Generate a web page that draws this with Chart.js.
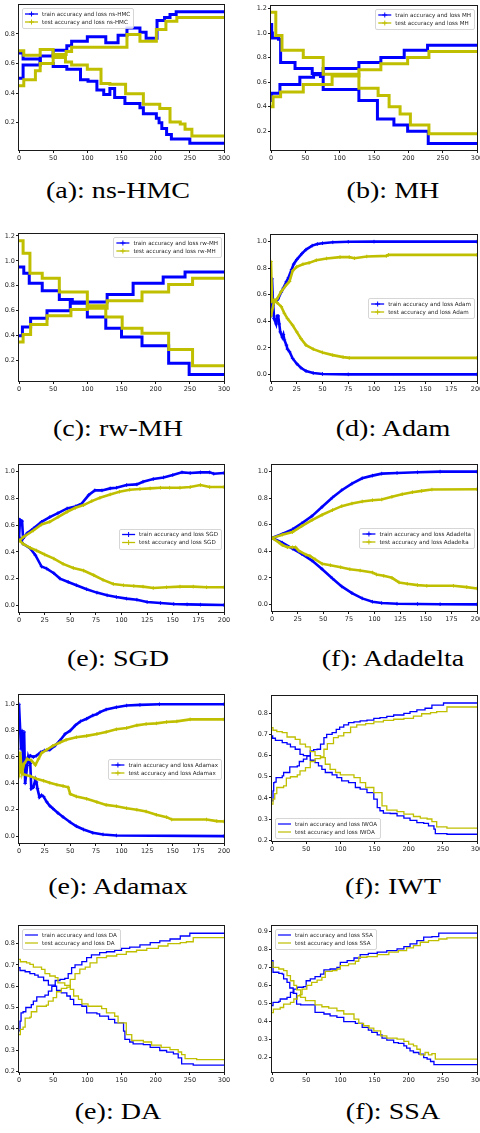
<!DOCTYPE html>
<html lang="en">
<head>
<meta charset="UTF-8">
<title>Accuracy and loss curves</title>
<script src="https://cdn.jsdelivr.net/npm/chart.js@4.4.1/dist/chart.umd.min.js"></script>
<style>
  body { margin: 0; background: #fff; }
  #figure { position: relative; width: 480px; height: 1133px; overflow: hidden; }
  #figure canvas { position: absolute; }
  .cap {
    position: absolute; width: 240px; text-align: center; line-height: 1;
    font-family: "Liberation Serif", serif; font-size: 23px; color: #000;
    transform: translateY(-50%) scaleX(1.22);
  }
</style>
</head>
<body>
<div id="figure"></div>
<script>
// each series: [epoch, value] pairs

// (a) ns-HMC
const hmcTrainAcc = [[0,0.50],[6,0.59],[31,0.65],[50,0.69],[70,0.72],[77,0.75],[100,0.78],[127,0.74],[145,0.79],[158,0.84],[177,0.81],[186,0.77],[202,0.89],[213,0.91],[221,0.93],[230,0.95],[300,0.95]];
const hmcTrainLoss = [[0,0.67],[6,0.63],[31,0.60],[50,0.58],[70,0.56],[90,0.49],[101,0.48],[114,0.42],[124,0.39],[133,0.43],[140,0.37],[155,0.33],[177,0.30],[182,0.26],[201,0.23],[205,0.20],[209,0.16],[216,0.12],[223,0.09],[250,0.06],[300,0.06]];
const hmcTestAcc = [[0,0.45],[7,0.49],[24,0.55],[31,0.60],[50,0.66],[69,0.68],[77,0.71],[158,0.795],[177,0.75],[201,0.83],[215,0.885],[231,0.91],[300,0.91]];
const hmcTestLoss = [[0,0.685],[7,0.655],[31,0.695],[50,0.64],[68,0.61],[77,0.59],[100,0.56],[120,0.465],[133,0.46],[156,0.395],[182,0.325],[206,0.295],[221,0.205],[236,0.19],[243,0.155],[253,0.11],[300,0.11]];

// (b) MH
const mhTrainAcc = [[0,0.45],[1,0.51],[13,0.58],[42,0.64],[62,0.66],[76,0.71],[128,0.76],[160,0.80],[194,0.86],[228,0.90],[300,0.90]];
const mhTrainLoss = [[0,1.07],[1,1.0],[2,0.96],[11,0.95],[14,0.76],[35,0.71],[60,0.67],[72,0.645],[76,0.54],[128,0.45],[155,0.30],[179,0.25],[199,0.20],[229,0.10],[300,0.10]];
const mhTestAcc = [[0,0.40],[3,0.48],[14,0.52],[47,0.58],[89,0.65],[128,0.70],[160,0.75],[199,0.80],[230,0.85],[300,0.85]];
const mhTestLoss = [[0,1.17],[7,0.98],[16,0.86],[47,0.80],[76,0.665],[128,0.55],[156,0.49],[172,0.40],[188,0.34],[203,0.25],[230,0.18],[300,0.18]];

// (c) rw-MH
const rwTrainAcc = [[0,0.40],[5,0.47],[17,0.54],[41,0.60],[75,0.67],[129,0.73],[167,0.82],[211,0.87],[243,0.91],[300,0.91]];
const rwTrainLoss = [[0,0.95],[7,0.90],[15,0.82],[34,0.76],[59,0.69],[78,0.66],[100,0.55],[127,0.46],[150,0.39],[180,0.32],[219,0.18],[249,0.09],[300,0.09]];
const rwTestAcc = [[0,0.35],[6,0.41],[17,0.49],[41,0.56],[76,0.61],[100,0.62],[129,0.68],[180,0.75],[219,0.81],[254,0.86],[300,0.86]];
const rwTestLoss = [[0,1.16],[6,1.06],[16,0.90],[34,0.86],[59,0.75],[100,0.64],[127,0.55],[151,0.46],[180,0.42],[219,0.29],[254,0.16],[300,0.16]];

// (d) Adam
const adamTrainAcc = [[0,0.44],[1,0.72],[2,0.52],[3,0.55],[5,0.55],[7,0.57],[10,0.62],[12,0.65],[15,0.70],[17,0.73],[20,0.79],[22,0.83],[25,0.865],[30,0.91],[34,0.94],[40,0.97],[45,0.982],[50,0.988],[60,0.995],[75,0.999],[100,1.0],[200,1.0]];
const adamTrainLoss = [[0,0.50],[1,0.62],[2,0.55],[3,0.42],[5,0.38],[6,0.44],[7,0.44],[8,0.38],[9,0.32],[11,0.28],[12,0.30],[13,0.26],[15,0.22],[16,0.19],[18,0.17],[21,0.12],[25,0.08],[29,0.05],[34,0.025],[41,0.01],[50,0.003],[75,0.0],[200,0.0]];
const adamTestAcc = [[0,0.44],[3,0.55],[6,0.57],[10,0.625],[15,0.675],[18,0.70],[21,0.78],[25,0.81],[31,0.83],[37,0.84],[44,0.86],[54,0.873],[67,0.883],[76,0.883],[81,0.875],[93,0.888],[112,0.893],[114,0.90],[200,0.90]];
const adamTestLoss = [[0,0.85],[1,0.55],[3,0.56],[6,0.54],[10,0.51],[13,0.46],[16,0.42],[21,0.37],[25,0.32],[29,0.27],[34,0.22],[41,0.19],[50,0.165],[60,0.145],[70,0.13],[76,0.124],[200,0.124]];

// (e) SGD
const sgdTrainAcc = [[0,0.50],[1,0.64],[3,0.63],[4,0.50],[8,0.54],[14,0.575],[22,0.625],[30,0.66],[38,0.69],[47,0.725],[55,0.74],[61,0.76],[68,0.825],[74,0.86],[81,0.86],[89,0.875],[95,0.88],[105,0.90],[115,0.905],[121,0.925],[131,0.945],[141,0.957],[150,0.975],[159,0.995],[167,0.99],[177,0.995],[186,0.995],[190,0.985],[200,0.99]];
const sgdTrainLoss = [[0,0.51],[4,0.46],[11,0.425],[16,0.375],[22,0.29],[27,0.275],[34,0.24],[40,0.20],[48,0.175],[56,0.15],[66,0.12],[76,0.095],[86,0.075],[95,0.062],[105,0.05],[115,0.042],[125,0.025],[138,0.017],[151,0.01],[164,0.007],[177,0.005],[200,0.002]];
const sgdTestAcc = [[0,0.48],[4,0.51],[14,0.56],[22,0.605],[30,0.625],[38,0.66],[47,0.70],[55,0.73],[63,0.75],[71,0.78],[79,0.805],[89,0.83],[98,0.85],[108,0.865],[118,0.87],[128,0.875],[138,0.88],[147,0.88],[157,0.88],[167,0.885],[177,0.90],[186,0.885],[200,0.885]];
const sgdTestLoss = [[0,0.49],[4,0.46],[11,0.43],[17,0.41],[25,0.38],[34,0.35],[43,0.31],[53,0.28],[63,0.26],[73,0.225],[82,0.19],[92,0.16],[102,0.15],[112,0.145],[121,0.14],[131,0.13],[144,0.135],[157,0.14],[170,0.14],[183,0.135],[200,0.135]];

// (f) Adadelta
const adadeltaTrainAcc = [[0,0.50],[10,0.53],[20,0.565],[29,0.61],[39,0.665],[49,0.735],[59,0.805],[68,0.86],[78,0.91],[88,0.95],[98,0.97],[107,0.985],[122,0.99],[142,0.995],[164,1.0],[200,1.0]];
const adadeltaTrainLoss = [[0,0.50],[10,0.465],[20,0.42],[29,0.38],[39,0.33],[49,0.265],[59,0.195],[68,0.135],[78,0.085],[88,0.045],[98,0.02],[107,0.01],[122,0.005],[142,0.003],[164,0.001],[200,0.0]];
const adadeltaTestAcc = [[0,0.50],[10,0.525],[20,0.545],[29,0.59],[39,0.635],[49,0.675],[59,0.71],[68,0.74],[78,0.76],[88,0.775],[98,0.785],[107,0.79],[117,0.81],[127,0.83],[137,0.845],[146,0.855],[156,0.865],[200,0.867]];
const adadeltaTestLoss = [[0,0.50],[7,0.465],[10,0.447],[15,0.43],[20,0.43],[23,0.43],[26,0.405],[33,0.375],[37,0.365],[42,0.34],[49,0.305],[57,0.295],[67,0.28],[76,0.265],[86,0.255],[98,0.24],[102,0.225],[109,0.215],[117,0.20],[124,0.165],[132,0.155],[142,0.145],[151,0.14],[177,0.14],[190,0.13],[200,0.12]];

// (e) Adamax
const adamaxTrainAcc = [[0,0.55],[2,0.52],[4,0.55],[8,0.585],[11,0.61],[14,0.60],[17,0.61],[21,0.635],[25,0.65],[30,0.655],[35,0.685],[40,0.725],[45,0.775],[50,0.80],[55,0.84],[60,0.87],[66,0.89],[72,0.915],[76,0.925],[79,0.94],[85,0.96],[95,0.977],[105,0.99],[118,0.995],[137,1.0],[200,1.0]];
const adamaxTrainLoss = [[0,1.0],[2,0.66],[3,0.80],[4,0.535],[5,0.79],[6,0.40],[8,0.535],[9,0.60],[11,0.55],[12,0.36],[14,0.37],[16,0.43],[17,0.41],[18,0.36],[20,0.295],[22,0.31],[24,0.30],[27,0.26],[30,0.23],[33,0.21],[38,0.175],[43,0.145],[50,0.105],[56,0.075],[63,0.05],[72,0.025],[82,0.013],[95,0.005],[200,0.0]];
const adamaxTestAcc = [[0,0.45],[1,0.635],[3,0.485],[5,0.55],[8,0.585],[12,0.575],[16,0.54],[19,0.585],[22,0.63],[27,0.655],[33,0.685],[40,0.71],[46,0.73],[56,0.75],[66,0.76],[76,0.775],[85,0.79],[95,0.81],[105,0.82],[115,0.84],[124,0.85],[134,0.855],[144,0.865],[154,0.87],[167,0.885],[200,0.885]];
const adamaxTestLoss = [[0,0.575],[2,0.485],[4,0.47],[11,0.455],[17,0.435],[24,0.42],[30,0.405],[37,0.39],[43,0.38],[48,0.37],[50,0.32],[56,0.30],[66,0.283],[76,0.258],[85,0.237],[95,0.227],[105,0.212],[115,0.20],[124,0.187],[134,0.162],[144,0.144],[149,0.126],[183,0.126],[193,0.114],[200,0.111]];

// (f) IWT
const iwtTrainAcc = [[0,0.386],[1.5,0.433],[2.5,0.472],[4,0.475],[6,0.496],[15,0.504],[17,0.52],[26,0.547],[37,0.551],[40,0.572],[46,0.583],[51,0.598],[56,0.622],[61,0.628],[66,0.63],[71,0.654],[76,0.685],[80,0.70],[88,0.709],[94,0.724],[99,0.735],[105,0.745],[112,0.756],[120,0.76],[129,0.764],[139,0.768],[149,0.776],[158,0.78],[168,0.786],[178,0.792],[193,0.80],[202,0.808],[212,0.816],[224,0.824],[234,0.839],[251,0.849],[300,0.849]];
const iwtTrainLoss = [[0,0.693],[1,0.682],[5,0.672],[15,0.661],[22,0.654],[27,0.641],[34,0.63],[41,0.606],[46,0.60],[56,0.578],[63,0.567],[68,0.551],[73,0.535],[78,0.52],[88,0.509],[95,0.496],[102,0.48],[112,0.472],[122,0.449],[129,0.441],[139,0.425],[149,0.394],[154,0.354],[158,0.339],[163,0.328],[173,0.326],[183,0.315],[193,0.304],[202,0.294],[212,0.283],[222,0.279],[229,0.268],[237,0.252],[239,0.231],[256,0.228],[300,0.228]];
const iwtTestAcc = [[0,0.37],[1.5,0.394],[4,0.42],[7,0.449],[17,0.457],[21,0.493],[27,0.50],[37,0.509],[41,0.528],[49,0.543],[56,0.572],[63,0.586],[71,0.594],[76,0.63],[81,0.657],[90,0.685],[97,0.693],[105,0.709],[115,0.735],[124,0.745],[137,0.751],[149,0.76],[163,0.767],[178,0.772],[193,0.776],[207,0.787],[219,0.798],[232,0.803],[241,0.808],[256,0.83],[300,0.83]];
const iwtTestLoss = [[0,0.732],[1.5,0.72],[7,0.713],[15,0.709],[22,0.688],[34,0.677],[41,0.654],[49,0.641],[56,0.619],[63,0.60],[71,0.59],[78,0.559],[85,0.535],[93,0.52],[100,0.509],[120,0.496],[129,0.472],[137,0.449],[149,0.425],[161,0.362],[168,0.342],[183,0.335],[193,0.323],[207,0.312],[217,0.304],[227,0.30],[234,0.288],[241,0.263],[256,0.257],[300,0.257]];

// (e) DA
const daTrainAcc = [[0,0.39],[1.5,0.436],[3,0.475],[6,0.48],[10,0.50],[18,0.514],[21,0.53],[26,0.55],[38,0.558],[43,0.577],[48,0.60],[53,0.627],[60,0.632],[67,0.637],[72,0.659],[77,0.687],[82,0.70],[92,0.716],[99,0.734],[106,0.747],[118,0.758],[128,0.762],[140,0.769],[150,0.778],[162,0.784],[177,0.794],[192,0.805],[206,0.813],[221,0.822],[236,0.836],[250,0.849],[300,0.849]];
const daTrainLoss = [[0,0.687],[1.5,0.674],[9,0.668],[16,0.659],[23,0.652],[28,0.643],[36,0.627],[43,0.605],[53,0.60],[55,0.58],[62,0.569],[70,0.554],[75,0.538],[80,0.514],[92,0.506],[99,0.475],[114,0.47],[118,0.46],[131,0.444],[140,0.428],[153,0.389],[155,0.35],[162,0.338],[167,0.329],[182,0.326],[192,0.313],[206,0.298],[216,0.29],[226,0.282],[233,0.263],[238,0.235],[255,0.229],[300,0.229]];
const daTestAcc = [[0,0.373],[2,0.397],[6,0.408],[9,0.45],[16,0.455],[18,0.48],[26,0.506],[40,0.511],[43,0.53],[50,0.546],[55,0.574],[62,0.59],[70,0.596],[75,0.632],[82,0.659],[89,0.68],[97,0.69],[104,0.71],[114,0.734],[128,0.742],[143,0.75],[157,0.762],[172,0.769],[187,0.778],[204,0.789],[218,0.80],[236,0.805],[245,0.809],[255,0.828],[300,0.828]];
const daTestLoss = [[0,0.726],[2,0.715],[11,0.71],[16,0.703],[21,0.69],[33,0.679],[38,0.659],[45,0.648],[53,0.64],[57,0.616],[67,0.604],[75,0.585],[80,0.554],[87,0.538],[92,0.517],[101,0.506],[121,0.495],[128,0.475],[140,0.459],[145,0.428],[157,0.373],[165,0.345],[182,0.338],[194,0.323],[208,0.313],[221,0.302],[233,0.291],[238,0.279],[243,0.26],[260,0.255],[300,0.255]];

// (f) SSA
const ssaTrainAcc = [[0,0.488],[1.5,0.506],[10,0.512],[12,0.525],[22,0.534],[27,0.562],[32,0.58],[37,0.59],[46,0.593],[50,0.626],[56,0.636],[63,0.649],[71,0.663],[76,0.686],[85,0.691],[95,0.70],[100,0.728],[110,0.737],[120,0.752],[129,0.771],[141,0.778],[154,0.784],[168,0.793],[183,0.802],[193,0.815],[202,0.83],[212,0.848],[222,0.867],[234,0.87],[244,0.89],[300,0.89]];
const ssaTrainLoss = [[0,0.737],[1.5,0.673],[10,0.667],[15,0.663],[17,0.636],[22,0.617],[26,0.586],[31,0.556],[36,0.497],[42,0.493],[63,0.451],[76,0.442],[85,0.432],[95,0.423],[105,0.40],[122,0.39],[132,0.368],[141,0.353],[146,0.34],[154,0.327],[161,0.308],[168,0.297],[178,0.284],[185,0.279],[193,0.266],[197,0.253],[202,0.238],[207,0.229],[215,0.22],[222,0.201],[227,0.192],[232,0.179],[237,0.162],[300,0.162]];
const ssaTestAcc = [[0,0.45],[2,0.469],[12,0.478],[17,0.497],[27,0.506],[32,0.525],[37,0.543],[41,0.549],[44,0.58],[51,0.60],[58,0.617],[66,0.63],[73,0.645],[78,0.678],[88,0.682],[95,0.691],[100,0.71],[112,0.719],[122,0.734],[127,0.756],[139,0.76],[154,0.771],[171,0.784],[185,0.793],[197,0.808],[207,0.82],[217,0.839],[229,0.848],[244,0.857],[256,0.863],[300,0.863]];
const ssaTestLoss = [[0,0.728],[1.5,0.70],[10,0.691],[17,0.682],[22,0.654],[27,0.626],[32,0.60],[36,0.575],[42,0.534],[49,0.516],[63,0.493],[73,0.482],[83,0.475],[95,0.46],[105,0.442],[120,0.414],[127,0.39],[134,0.377],[142,0.364],[149,0.349],[159,0.321],[168,0.308],[183,0.303],[193,0.29],[200,0.275],[207,0.266],[212,0.247],[217,0.216],[224,0.229],[229,0.216],[234,0.223],[239,0.192],[300,0.192]];

// y tick labels per panel
const ticksHmc = [0.2, 0.4, 0.6, 0.8];
const ticksMh = [0.2, 0.4, 0.6, 0.8, 1.0, 1.2];
const ticksOpt = [0.0, 0.2, 0.4, 0.6, 0.8, 1.0];
const ticksIwt = [0.2, 0.3, 0.4, 0.5, 0.6, 0.7, 0.8];
const ticksSsa = [0.2, 0.3, 0.4, 0.5, 0.6, 0.7, 0.8, 0.9];

const BLUE = '#0000ff';
const OLIVE = '#bfbf00';
const TICK_FONT = { family: 'DejaVu Sans', size: 6.5 };
const TEXT = '#262626';

// area = plot frame in page pixels [left, top, right, bottom]; capY = caption centre
const panels = [
  { caption: '(a): ns-HMC', name: 'ns-HMC', col: 0, area: [19, 5, 224, 150], capY: 190, kind: 'step', xMax: 300, y: [0.015, 0.995], yTicks: ticksHmc, loc: 'upper left', s: [hmcTrainAcc, hmcTrainLoss, hmcTestAcc, hmcTestLoss] },
  { caption: '(b): MH', name: 'MH', col: 1, area: [271, 6, 477, 150], capY: 190, kind: 'step', xMax: 300, y: [0.047, 1.22], yTicks: ticksMh, loc: 'upper right', s: [mhTrainAcc, mhTrainLoss, mhTestAcc, mhTestLoss] },
  { caption: '(c): rw-MH', name: 'rw-MH', col: 0, area: [19, 234, 224, 381], capY: 428, kind: 'step', xMax: 300, y: [0.037, 1.215], yTicks: ticksMh, loc: 'upper right', s: [rwTrainAcc, rwTrainLoss, rwTestAcc, rwTestLoss] },
  { caption: '(d): Adam', name: 'Adam', col: 1, area: [271, 235, 477, 381], capY: 428, kind: 'smooth', xMax: 200, y: [-0.05, 1.05], yTicks: ticksOpt, loc: 'center right', s: [adamTrainAcc, adamTrainLoss, adamTestAcc, adamTestLoss] },
  { caption: '(e): SGD', name: 'SGD', col: 0, area: [19, 465, 224, 612], capY: 658, kind: 'smooth', xMax: 200, y: [-0.05, 1.05], yTicks: ticksOpt, loc: 'center right', s: [sgdTrainAcc, sgdTrainLoss, sgdTestAcc, sgdTestLoss] },
  { caption: '(f): Adadelta', name: 'Adadelta', col: 1, area: [272, 465, 477, 611], capY: 658, kind: 'smooth', xMax: 200, y: [-0.05, 1.05], yTicks: ticksOpt, loc: 'center right', s: [adadeltaTrainAcc, adadeltaTrainLoss, adadeltaTestAcc, adadeltaTestLoss] },
  { caption: '(e): Adamax', name: 'Adamax', col: 0, area: [19, 695, 224, 843], capY: 886, kind: 'smooth', xMax: 200, y: [-0.052, 1.07], yTicks: ticksOpt, loc: 'center right', s: [adamaxTrainAcc, adamaxTrainLoss, adamaxTestAcc, adamaxTestLoss] },
  { caption: '(f): IWT', name: 'IWOA', col: 1, area: [272, 696, 477, 841], capY: 886, kind: 'thin', xMax: 300, y: [0.196, 0.882], yTicks: ticksIwt, loc: 'lower left', s: [iwtTrainAcc, iwtTrainLoss, iwtTestAcc, iwtTestLoss] },
  { caption: '(e): DA', name: 'DA', col: 0, area: [19, 926, 224, 1072], capY: 1111, kind: 'thin', xMax: 300, y: [0.197, 0.883], yTicks: ticksIwt, loc: 'upper left', s: [daTrainAcc, daTrainLoss, daTestAcc, daTestLoss] },
  { caption: '(f): SSA', name: 'SSA', col: 1, area: [272, 926, 477, 1072], capY: 1111, kind: 'thin', xMax: 300, y: [0.121, 0.929], yTicks: ticksSsa, loc: 'upper left', s: [ssaTrainAcc, ssaTrainLoss, ssaTestAcc, ssaTestLoss] }
];
const captionCenters = [118, 393];

// matplotlib style box around the plot area
const framePlugin = {
  id: 'frame',
  afterDatasetsDraw(chart) {
    const { ctx, chartArea: a } = chart;
    ctx.save();
    ctx.strokeStyle = '#1a1a1a';
    ctx.lineWidth = 1;
    const l = Math.round(a.left) - 0.5, t = Math.round(a.top) - 0.5;
    ctx.strokeRect(l, t, Math.round(a.right) - Math.round(a.left) + 1, Math.round(a.bottom) - Math.round(a.top) + 1);
    ctx.restore();
  }
};

// legend box placed inside the axes like plt.legend(loc=...)
const boxLegend = {
  id: 'boxLegend',
  afterDraw(chart, args, opts) {
    const { ctx, chartArea: a } = chart;
    const items = chart.data.datasets.filter(d => d.inLegend).reverse();
    ctx.save();
    ctx.font = '5.6px "DejaVu Sans"';
    const pad = 3, sample = 13, gap = 4, rowH = 8;
    const tw = Math.max(...items.map(d => ctx.measureText(d.label).width));
    const w = pad + sample + gap + tw + pad;
    const h = 2 + rowH * items.length + 2;
    const m = 3;
    const x = opts.loc.includes('left') ? a.left + m : a.right - m - w;
    const y = opts.loc.startsWith('upper') ? a.top + m
      : opts.loc.startsWith('lower') ? a.bottom - m - h
      : (a.top + a.bottom - h) / 2;
    ctx.fillStyle = 'rgba(255,255,255,0.85)';
    ctx.strokeStyle = '#cccccc';
    ctx.lineWidth = 0.8;
    ctx.beginPath();
    ctx.roundRect(Math.round(x) + 0.5, Math.round(y) + 0.5, Math.round(w), Math.round(h), 1.5);
    ctx.fill();
    ctx.stroke();
    items.forEach((d, i) => {
      const cy = y + 2 + rowH * i + rowH / 2;
      const x0 = x + pad;
      ctx.strokeStyle = d.borderColor;
      ctx.lineWidth = d.kind === 'thin' ? 1.2 : 1.3;
      ctx.beginPath();
      ctx.moveTo(x0, cy);
      ctx.lineTo(x0 + sample, cy);
      ctx.stroke();
      if (d.kind !== 'thin') {
        const cx = x0 + sample / 2;
        ctx.lineWidth = 1;
        ctx.beginPath();
        ctx.moveTo(cx, cy - 2.5); ctx.lineTo(cx, cy + 2.5);
        ctx.moveTo(cx - 2.5, cy); ctx.lineTo(cx + 2.5, cy);
        ctx.stroke();
      }
      ctx.fillStyle = TEXT;
      ctx.textBaseline = 'middle';
      ctx.fillText(d.label, x0 + sample + gap, cy + 0.3);
    });
    ctx.restore();
  }
};

function makeDataset(label, pts, color, kind, inLegend) {
  return {
    label,
    data: pts.map(([x, y]) => ({ x, y })),
    borderColor: color,
    backgroundColor: color,
    kind,
    inLegend,
    fill: false,
    tension: 0,
    // value holds from its epoch until the next listed epoch
    stepped: kind === 'smooth' ? false : 'before',
    borderWidth: kind === 'thin' ? 1.3 : (kind === 'step' ? 3 : 2.6),
    pointStyle: 'cross',
    pointRadius: kind === 'smooth' ? 1.8 : 0,
    pointBorderWidth: 1,
    pointHoverRadius: 0
  };
}

const fig = document.getElementById('figure');
const PAD_TOP = 6, X_AXIS_H = 14;

panels.forEach((p) => {
  const colLeft = p.col * 240;
  const [l, t, r, b] = p.area;
  const canvas = document.createElement('canvas');
  canvas.width = 240;
  canvas.height = b - t + PAD_TOP + X_AXIS_H;
  canvas.style.left = colLeft + 'px';
  canvas.style.top = (t - PAD_TOP) + 'px';
  fig.appendChild(canvas);

  const [trainAcc, trainLoss, testAcc, testLoss] = p.s;
  const trainLabel = 'train accuracy and loss ' + p.name;
  const testLabel = 'test accuracy and loss ' + p.name;

  const grid = { display: true, drawOnChartArea: false, drawTicks: true, tickLength: 3, color: '#1a1a1a', lineWidth: 1 };

  new Chart(canvas, {
    type: 'line',
    data: {
      datasets: [
        makeDataset(testLabel, testAcc, OLIVE, p.kind, true),
        makeDataset(testLabel, testLoss, OLIVE, p.kind, false),
        makeDataset(trainLabel, trainAcc, BLUE, p.kind, true),
        makeDataset(trainLabel, trainLoss, BLUE, p.kind, false)
      ]
    },
    options: {
      responsive: false,
      animation: false,
      events: [],
      layout: { padding: { left: 0, top: PAD_TOP, right: colLeft + 240 - r, bottom: 0 } },
      plugins: {
        legend: { display: false },
        tooltip: { enabled: false },
        boxLegend: { loc: p.loc }
      },
      scales: {
        x: {
          type: 'linear',
          min: 0,
          max: p.xMax,
          ticks: { stepSize: p.xMax === 300 ? 50 : 25, autoSkip: false, maxRotation: 0, padding: 1, font: TICK_FONT, color: TEXT },
          grid,
          border: { display: false },
          afterFit(s) { s.height = X_AXIS_H; s.paddingLeft = 0; s.paddingRight = 0; }
        },
        y: {
          type: 'linear',
          min: p.y[0],
          max: p.y[1],
          afterBuildTicks(s) { s.ticks = p.yTicks.map(v => ({ value: v })); },
          ticks: { callback: v => Number(v).toFixed(1), padding: 1, font: TICK_FONT, color: TEXT },
          grid,
          border: { display: false },
          afterFit(s) { s.width = l - colLeft; s.paddingTop = 0; s.paddingBottom = 0; }
        }
      }
    },
    plugins: [framePlugin, boxLegend]
  });

  const cap = document.createElement('div');
  cap.className = 'cap';
  cap.textContent = p.caption;
  cap.style.left = (captionCenters[p.col] - 120) + 'px';
  cap.style.top = p.capY + 'px';
  fig.appendChild(cap);
});
</script>
</body>
</html>
